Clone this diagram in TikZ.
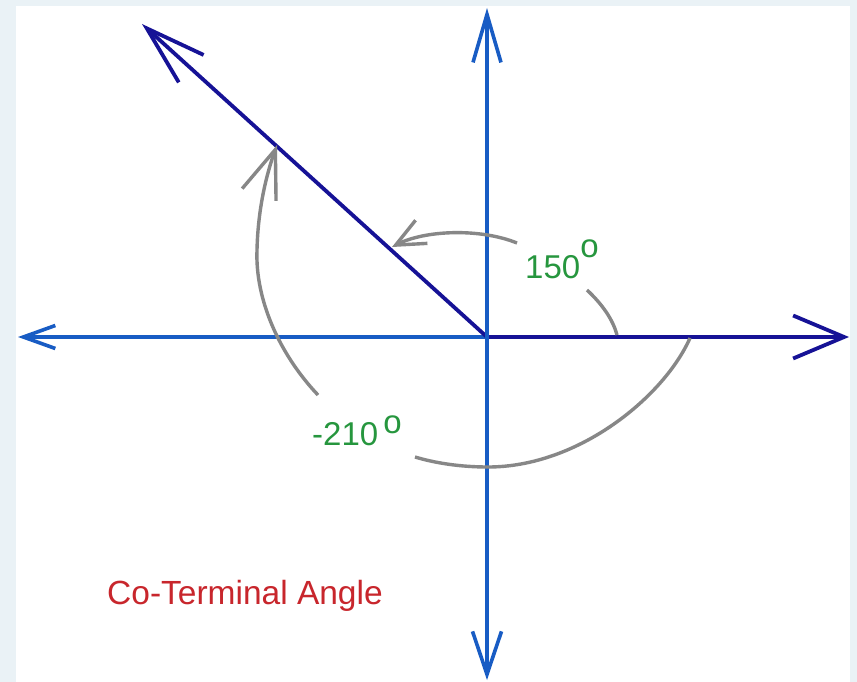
\documentclass[tikz,border=0pt]{standalone}
\usepackage{fontspec}
\setmainfont{Liberation Sans}
\usetikzlibrary{arrows.meta}
\definecolor{bgpanel}{RGB}{234,242,246}
\definecolor{axisblue}{RGB}{24,92,196}
\definecolor{armnavy}{RGB}{22,18,150}
\definecolor{arcgray}{RGB}{135,135,135}
\definecolor{anglegreen}{RGB}{38,150,62}
\definecolor{titlered}{RGB}{200,38,44}
\begin{document}
\begin{tikzpicture}[x=1pt,y=-1pt,
    axis/.style={axisblue, line width=3.6pt},
    arm/.style={armnavy, line width=3.8pt},
    turn/.style={arcgray, line width=3.4pt},
    anglelbl/.style={anglegreen, font=\fontsize{33}{33}\selectfont, inner sep=0pt, anchor=base west}]
      \fill[bgpanel] (0,0) rectangle (857,682);
      \fill[white] (16,6) rectangle (850,682);
      \useasboundingbox (0,0) rectangle (857,682);
      % axes and terminal side
      \coordinate (O) at (487,337);
      \coordinate (xl) at (18,337); \coordinate (xr) at (849,337);
      \coordinate (yt) at (487,8); \coordinate (yb) at (487,680);
      \coordinate (term) at (142,24);
      \draw[axis, -{Straight Barb[length=32pt,width=23pt]}] (O) -- (xl);
      \draw[arm, -{Straight Barb[length=51pt,width=43pt]}] (O) -- (xr);
      \draw[arm, -{Straight Barb[length=60pt,width=37pt]}] (O) -- (term);
      \draw[axis, -{Straight Barb[length=48pt,width=28pt]}] (O) -- (yt);
      \draw[axis, -{Straight Barb[length=43pt,width=29pt]}] (O) -- (yb);
      % 150 degree turn
      \coordinate (p1) at (617,335); \coordinate (p2) at (587,290);
      \coordinate (p3) at (517,243); \coordinate (p4) at (392,247);
      \draw[turn] (p1) .. controls (613,320) and (603,305) .. (p2);
      \draw[turn, -{Straight Barb[length=29pt,width=26pt]}] (p3) .. controls (480,228) and (425,230) .. (p4);
      % -210 degree turn
      \coordinate (q1) at (690,338); \coordinate (q2) at (415,457);
      \coordinate (q3) at (318,395); \coordinate (q4) at (277,145);
      \draw[turn] (q1) .. controls (665,395) and (580,467) .. (488,467) .. controls (460,467) and (435,463) .. (q2);
      \draw[turn, -{Straight Barb[length=48pt,width=36pt]}] (q3) .. controls (280,355) and (255,300) .. (257,250) .. controls (258,205) and (268,170) .. (q4);
      % labels
      \node[anglelbl] (lbl150) at (525,278) {150\raisebox{21pt}{o}};
      \node[anglelbl] (lbl210) at (312,445) {-210\hspace{5pt}\raisebox{12pt}{o}};
      \node[titlered, font=\fontsize{33.5}{33.5}\selectfont, inner sep=0pt, anchor=base west] (title) at (107,604) {Co-Terminal Angle};
    \end{tikzpicture}
\end{document}
